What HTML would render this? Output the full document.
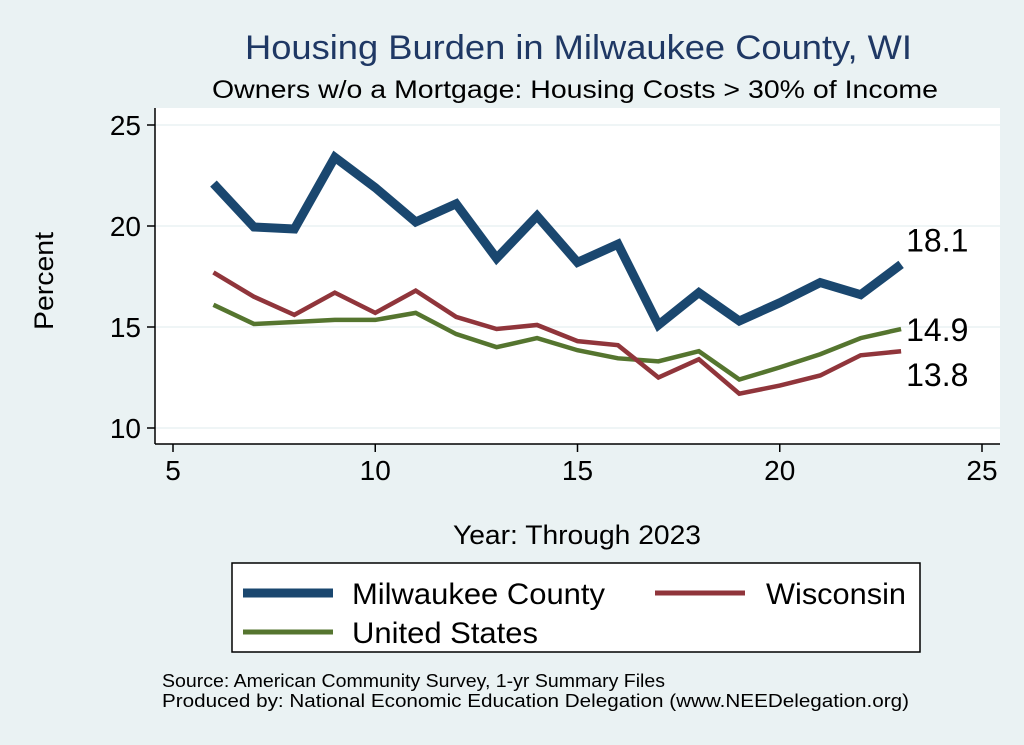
<!DOCTYPE html>
<html><head><meta charset="utf-8"><style>
body{margin:0;background:#eaf2f3;}
svg{display:block;font-family:"Liberation Sans",sans-serif;}
</style></head><body>
<svg id="chart" width="1024" height="745">
<rect x="0" y="0" width="1024" height="745" fill="#eaf2f3"/>
<rect x="155" y="108" width="845" height="336" fill="#ffffff"/>
<text x="245" y="59" font-size="34" fill="#1f3864" textLength="667" lengthAdjust="spacingAndGlyphs">Housing Burden in Milwaukee County, WI</text>
<text x="212" y="98" font-size="25" fill="#000" textLength="726" lengthAdjust="spacingAndGlyphs">Owners w/o a Mortgage: Housing Costs &gt; 30% of Income</text>
<g id="grid"></g><g id="axes"></g><g id="series"></g>
<text x="53" y="281" font-size="27" text-anchor="middle" textLength="98" lengthAdjust="spacingAndGlyphs" transform="rotate(-90 53 281)">Percent</text>
<text x="453" y="544" font-size="27" textLength="248" lengthAdjust="spacingAndGlyphs">Year: Through 2023</text>
<g>
<rect x="232" y="563" width="688" height="89" fill="#fff" stroke="#000" stroke-width="1.5"/>
<line x1="243" y1="593" x2="333" y2="593" stroke="#1a476f" stroke-width="9"/>
<text x="352" y="604" font-size="30" textLength="253" lengthAdjust="spacingAndGlyphs">Milwaukee County</text>
<line x1="655" y1="593" x2="745" y2="593" stroke="#90353b" stroke-width="5"/>
<text x="766" y="604" font-size="30" textLength="140" lengthAdjust="spacingAndGlyphs">Wisconsin</text>
<line x1="243" y1="632" x2="333" y2="632" stroke="#55752f" stroke-width="5"/>
<text x="352" y="643" font-size="30" textLength="186" lengthAdjust="spacingAndGlyphs">United States</text>
</g>
<text x="162" y="687" font-size="18" textLength="503" lengthAdjust="spacingAndGlyphs">Source: American Community Survey, 1-yr Summary Files</text>
<text x="162" y="707" font-size="18" textLength="747" lengthAdjust="spacingAndGlyphs">Produced by: National Economic Education Delegation (www.NEEDelegation.org)</text>
</svg>
<script>
const years=[6,7,8,9,10,11,12,13,14,15,16,17,18,19,20,21,22,23];
const milwaukee=[22.1,19.95,19.85,23.4,21.9,20.2,21.1,18.4,20.5,18.2,19.1,15.1,16.7,15.3,16.2,17.2,16.6,18.1];
const wisconsin=[17.7,16.5,15.6,16.7,15.7,16.8,15.5,14.9,15.1,14.3,14.1,12.5,13.4,11.7,12.1,12.6,13.6,13.8];
const unitedStates=[16.1,15.15,15.25,15.35,15.35,15.7,14.65,14.0,14.45,13.85,13.45,13.3,13.8,12.4,13.0,13.65,14.45,14.9];
const xTicks=[5,10,15,20,25];
const yTicks=[10,15,20,25];
const NS='http://www.w3.org/2000/svg';
function X(v){return 173+(v-5)*(982-173)/20;}
function Y(v){return 428-(v-10)*(428-125)/15;}
function mk(tag,attrs,parent){const e=document.createElementNS(NS,tag);for(const k in attrs)e.setAttribute(k,attrs[k]);parent.appendChild(e);return e;}
const grid=document.getElementById('grid'),axes=document.getElementById('axes'),series=document.getElementById('series');
yTicks.forEach(t=>{
 const g=mk('line',{x1:155,x2:1000,y1:Y(t),y2:Y(t),stroke:'#eaf2f3','stroke-width':1.5},grid);
 
 
 const tk=mk('line',{x1:147,x2:155,y1:Y(t),y2:Y(t),stroke:'#000','stroke-width':1.5},axes);
 
 
 const tx=mk('text',{x:141,y:Y(t)+10,'font-size':28,'text-anchor':'end'},axes);tx.textContent=t;
 
 
});
xTicks.forEach(t=>{
 const tk=mk('line',{x1:X(t),x2:X(t),y1:444,y2:452,stroke:'#000','stroke-width':1.5},axes);
 
 
 const tx=mk('text',{x:X(t),y:480,'font-size':28,'text-anchor':'middle'},axes);tx.textContent=t;
 
 
});
const ya=mk('line',{x1:155,x2:155,y1:108,y2:444,stroke:'#000','stroke-width':1.5},axes);


const xa=mk('line',{x1:155,x2:1000,y1:444,y2:444,stroke:'#000','stroke-width':1.5},axes);


function draw(vals,color,w,name,labelDy){
 const p=mk('polyline',{points:years.map((y,i)=>X(y)+','+Y(vals[i])).join(' '),fill:'none',stroke:color,'stroke-width':w,'stroke-linejoin':'miter'},series);
 
 
 const last=vals.length-1;
 const t=mk('text',{x:X(years[last])+5,y:Y(vals[last])+labelDy,'font-size':32},series);
 t.textContent=vals[last].toFixed(1);
 
 
}
draw(unitedStates,'#55752f',4.5,'united-states',12);
draw(wisconsin,'#90353b',4.5,'wisconsin',35);
draw(milwaukee,'#1a476f',9,'milwaukee',-13);
</script>
</body></html>
